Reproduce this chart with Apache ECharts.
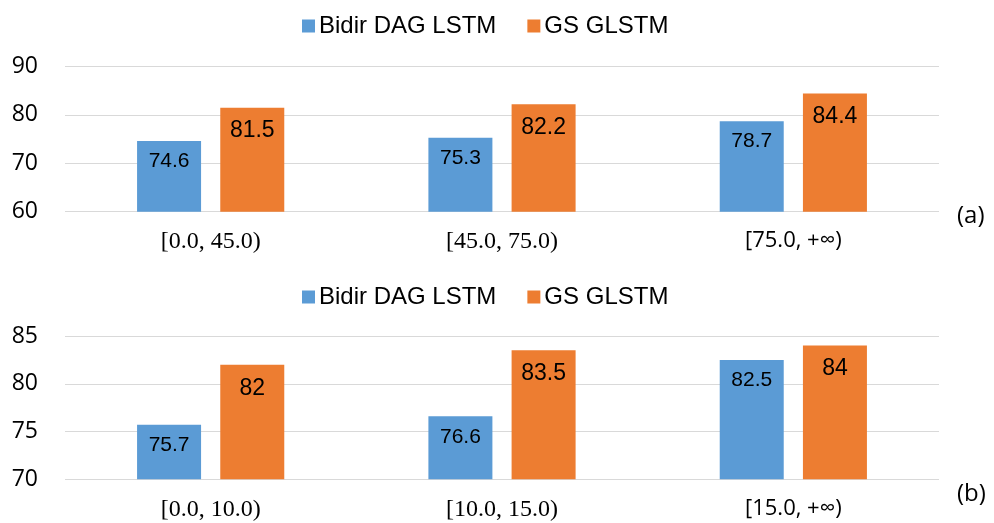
<!DOCTYPE html>
<html><head><meta charset="utf-8">
<script src="https://cdn.jsdelivr.net/npm/echarts@6/dist/echarts.min.js"></script>
<style>html,body{margin:0;padding:0;background:#fff}#c{width:994px;height:523px}</style>
</head><body><div id="c"></div>
<script>
const seriesNames = ['Bidir DAG LSTM', 'GS GLSTM'];
const catsA = ['[0.0, 45.0)', '[45.0, 75.0)', '[75.0, +∞)'];
const bidirA = [74.6, 75.3, 78.7];
const gsA = [81.5, 82.2, 84.4];
const catsB = ['[0.0, 10.0)', '[10.0, 15.0)', '[15.0, +∞)'];
const bidirB = [75.7, 76.6, 82.5];
const gsB = [82, 83.5, 84];
const panelTags = ['(a)', '(b)'];

const BLUE = '#5B9BD5', ORANGE = '#ED7D31';
const chart = echarts.init(document.getElementById('c'), null, {renderer: 'canvas'});

function catLabel(v) {
  return v.indexOf('∞') >= 0 ? '{s|' + v + '}' : '{r|' + v + '}';
}
const xLabel = {
  margin: 18, color: '#000', formatter: catLabel,
  rich: {
    r: {fontFamily: 'Liberation Serif', fontSize: 24, color: '#000'},
    s: {fontFamily: 'Open Sans', fontSize: 22, color: '#000'}
  }
};
const yLabel = {fontFamily: 'Open Sans', fontSize: 23, color: '#000', margin: 27};
const split = {show: true, lineStyle: {color: '#d9d9d9', width: 1}};

function bar(name, data, xi, color, fs, dist) {
  return {
    name: name, type: 'bar', xAxisIndex: xi, yAxisIndex: xi, data: data,
    barWidth: 64, barGap: '30%', itemStyle: {color: color},
    label: {show: true, position: 'insideTop', distance: dist, color: '#000',
            fontFamily: 'Liberation Sans', fontSize: fs},
    emphasis: {disabled: true}
  };
}
const legendBase = {
  data: seriesNames, icon: 'rect', itemWidth: 13, itemHeight: 13, itemGap: 31,
  left: 297, textStyle: {fontFamily: 'Liberation Sans', fontSize: 24, color: '#000', padding: [0,0,0,-1]},
  selectedMode: false
};

chart.setOption({
  animation: false,
  legend: [
    Object.assign({}, legendBase, {top: 9}),
    Object.assign({}, legendBase, {top: 280})
  ],
  grid: [
    {left: 65, right: 55, top: 66.5, height: 145.2},
    {left: 65, right: 55, top: 336, height: 143.3}
  ],
  xAxis: [
    {type: 'category', gridIndex: 0, data: catsA, axisLine: {show: false}, axisTick: {show: false}, axisLabel: xLabel},
    {type: 'category', gridIndex: 1, data: catsB, axisLine: {show: false}, axisTick: {show: false}, axisLabel: xLabel}
  ],
  yAxis: [
    {type: 'value', gridIndex: 0, min: 60, max: 90, interval: 10, axisLine: {show: false}, axisTick: {show: false}, axisLabel: yLabel, splitLine: split},
    {type: 'value', gridIndex: 1, min: 70, max: 85, interval: 5, axisLine: {show: false}, axisTick: {show: false}, axisLabel: yLabel, splitLine: split}
  ],
  series: [
    bar(seriesNames[0], bidirA, 0, BLUE, 21, 10),
    bar(seriesNames[1], gsA, 0, ORANGE, 23, 12),
    bar(seriesNames[0], bidirB, 1, BLUE, 21, 10),
    bar(seriesNames[1], gsB, 1, ORANGE, 23, 12)
  ],
  graphic: [
    {type: 'text', left: 957, top: 204, style: {text: panelTags[0], fontFamily: 'Open Sans', fontSize: 24, fill: '#000'}},
    {type: 'text', left: 957, top: 482, style: {text: panelTags[1], fontFamily: 'Open Sans', fontSize: 24, fill: '#000'}}
  ]
});
</script></body></html>
